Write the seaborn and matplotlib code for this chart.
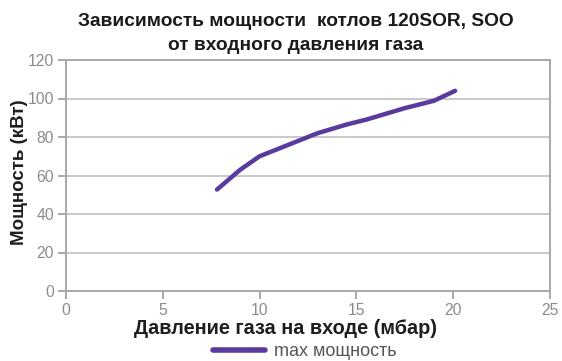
import matplotlib
matplotlib.use("Agg")
import matplotlib.pyplot as plt
import seaborn as sns
import pandas as pd

pressure = [7.8, 9.0, 10.0, 11.5, 13.0, 14.5, 15.5, 17.5, 19.0, 20.1]
power = [52.7, 63.0, 70.0, 76.0, 82.0, 86.5, 89.0, 95.0, 98.8, 104.0]
series_name = "max мощность"
x_ticks = [0, 5, 10, 15, 20, 25]
y_ticks = [0, 20, 40, 60, 80, 100, 120]

sns.set_theme(style="white")
plt.rcParams['font.family'] = ['Liberation Sans', 'DejaVu Sans']

df = pd.DataFrame({"x": pressure, "y": power, "s": series_name})

W, H = 562, 361
fig = plt.figure(figsize=(W/100, H/100), dpi=100)
ax = fig.add_axes([66/W, 1-291/H, (550-66)/W, (291-60)/H])

ax.yaxis.grid(True, color="#c4c4c4", linewidth=1.3)
ax.set_axisbelow(True)
sns.lineplot(data=df, x="x", y="y", hue="s", palette=["#5b3a9e"], linewidth=3.2,
             ax=ax, legend=True)

ax.set_xlim(0, 25)
ax.set_ylim(0, 120)
ax.set_xticks(x_ticks)
ax.set_yticks(y_ticks)
ax.tick_params(axis="both", colors="#9a9a9a", labelsize=11.3, length=5.5, width=1.2,
               direction="out", bottom=True, left=True, pad=3)
for t in ax.get_xticklabels() + ax.get_yticklabels():
    t.set_color("#8c8c8c")
for sp in ax.spines.values():
    sp.set_color("#a8a8a8")
    sp.set_linewidth(1.4)

ax.set_xlabel("Давление газа на входе (мбар)", fontsize=14.3, fontweight="bold",
              color="#1e1e1e")
ax.xaxis.set_label_coords((286-66)/484, 1-(328-60)/231)
ax.xaxis.label.set_va("center")
ax.set_ylabel("Мощность (кВт)", fontsize=13.5, fontweight="bold", color="#1e1e1e")
ax.yaxis.set_label_coords((19.5-66)/484, (291-172)/231)
ax.yaxis.label.set_va("center")

fig.text(296/W, 1-21/H, "Зависимость мощности  котлов 120SOR, SOO",
         ha="center", va="center", fontsize=13.8, fontweight="bold", color="#1a1a1a")
fig.text(296/W, 1-46/H, "от входного давления газа",
         ha="center", va="center", fontsize=13.8, fontweight="bold", color="#1a1a1a")

leg = ax.legend(loc="center", bbox_to_anchor=(305/W, 1-352/H),
                bbox_transform=fig.transFigure, frameon=False, fontsize=13,
                handlelength=2.9, handletextpad=0.5, borderpad=0, borderaxespad=0)
for t in leg.get_texts():
    t.set_color("#555555")
for l in leg.get_lines():
    l.set_linewidth(4)

fig.savefig("out.png", dpi=100)
